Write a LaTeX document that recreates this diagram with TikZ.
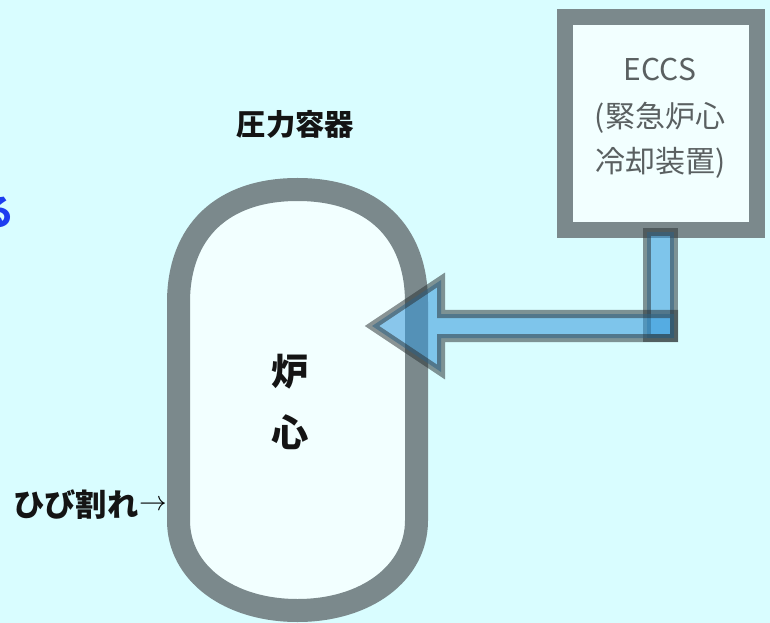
\documentclass[tikz,border=0pt]{standalone}
\usepackage{fontspec}
\newfontfamily\jp{Noto Sans CJK JP}
\definecolor{bgc}{HTML}{D9FDFF}
\definecolor{innerc}{HTML}{F2FFFF}
\definecolor{wallc}{HTML}{7B898C}
\definecolor{pipec}{HTML}{3498DB}
\definecolor{pipeedge}{HTML}{2A3133}
\definecolor{eccstext}{HTML}{5A6061}
\definecolor{titleblue}{HTML}{1E3CF0}
\tikzset{
  wall/.style={draw=wallc, fill=innerc, line width=17.25pt},
  eccsbox/.style={draw=wallc, fill=innerc, line width=12pt, minimum width=144pt, minimum height=159.75pt, inner sep=0pt},
  pipe/.style={draw=pipeedge, draw opacity=0.52, fill=pipec, fill opacity=0.55, line width=6pt, line join=miter},
  lbl/.style={font=\jp\bfseries\fontsize{22}{26}\selectfont, text=black!92, inner sep=0pt},
  core/.style={font=\jp\bfseries\fontsize{28}{32}\selectfont, text=black!92, inner sep=0pt},
  etext/.style={font=\jp\fontsize{22.5}{26}\selectfont, text=eccstext, inner sep=0pt},
}
\begin{document}
\begin{tikzpicture}[x=0.75pt,y=-0.75pt]
\fill[bgc] (0,0) rectangle (770,623);
\useasboundingbox (0,0) rectangle (770,623);
% pressure vessel
\draw[wall] (178.5,302.5)
  .. controls (178.5,231.3) and (222.5,189.5) .. (297.5,189.5)
  .. controls (372.5,189.5) and (416.5,231.3) .. (416.5,302.5)
  -- (416.5,520.5)
  .. controls (416.5,572.7) and (366.5,610.5) .. (297.5,610.5)
  .. controls (228.5,610.5) and (178.5,572.7) .. (178.5,520.5)
  -- cycle;
\node[core] (ro) at (290,372) {炉};
\node[core] (shin) at (290,432) {心};
\node[lbl] (vessel) at (295.5,124) {圧力容器};
\node[lbl, anchor=west, font=\jp\bfseries\fontsize{23.5}{26}\selectfont] (crack) at (13,505) {ひび割れ};
\node[anchor=west, inner sep=0pt, font=\fontsize{22}{26}\selectfont] (crackarrow) at (crack.east) {$\rightarrow$};
\node[anchor=east, inner sep=0pt, text=titleblue, font=\jp\bfseries\fontsize{27}{30}\selectfont] (title) at (15,212) {る};
% ECCS
\node[eccsbox] (eccs) at (661,123.5) {};
\node[etext] (e1) at (660,70) {ECCS};
\node[etext] (e2) at (660,118) {(緊急炉心};
\node[etext] (e3) at (661,163) {冷却装置)};
% pipe
\coordinate (pv1) at (647,232);
\coordinate (pv2) at (674,338);
\draw[pipe] (pv1) rectangle (pv2);
\coordinate (tip) at (372,326);
\draw[pipe] (674,314) -- (441,314) -- (441,280) -- (tip) -- (441,372) -- (441,338) -- (674,338) -- cycle;
\end{tikzpicture}
\end{document}
